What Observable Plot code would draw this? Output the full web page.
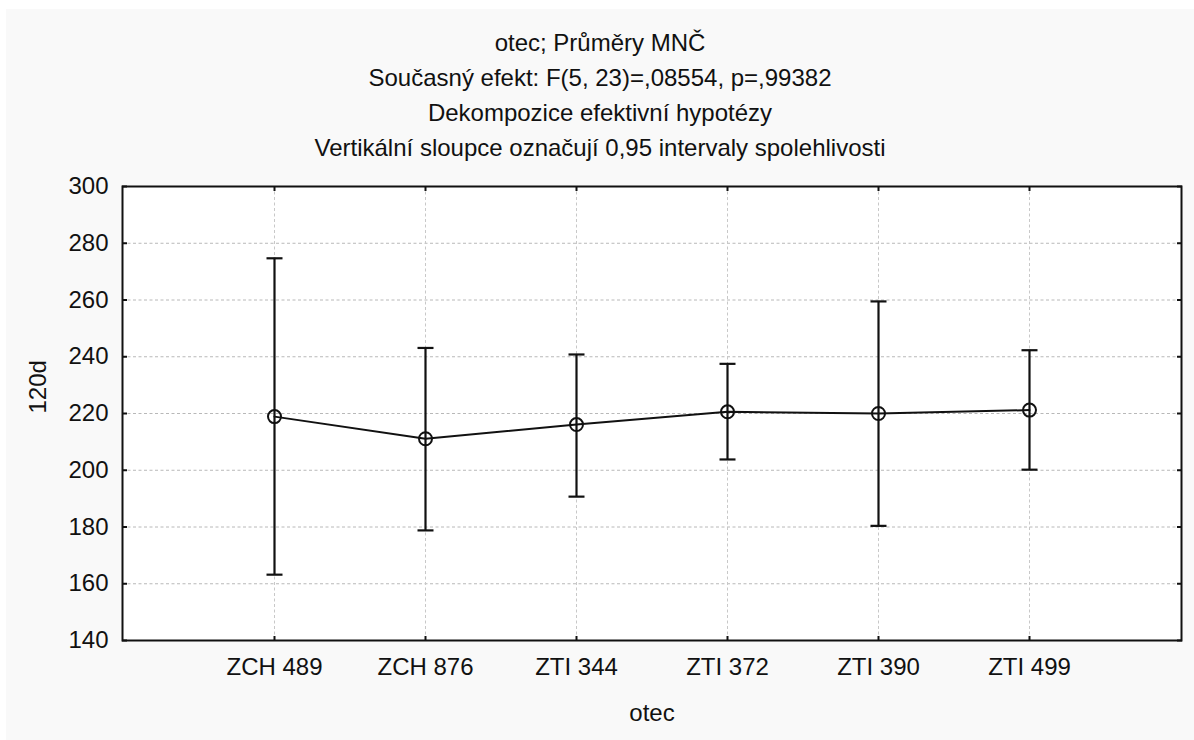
<!DOCTYPE html>
<html>
<head>
<meta charset="utf-8">
<script src="https://cdn.jsdelivr.net/npm/d3@7"></script>
<script src="https://cdn.jsdelivr.net/npm/@observablehq/plot@0.6"></script>
<style>
  html, body { margin: 0; padding: 0; background: #ffffff; }
  #chart {
    position: absolute; left: 6px; top: 9px; width: 1188px; height: 731px;
    background: #f9f9f9; overflow: hidden;
    font-family: "Liberation Sans", Arial, sans-serif; color: #111;
  }
  #title {
    padding-top: 16px; text-align: center; font-size: 24px; line-height: 35px;
  }
  #plot svg { display: block; }
</style>
</head>
<body>
<div id="chart">
  <div id="title"></div>
  <div id="plot"></div>
</div>
<script>
const titleLines = [
  "otec; Průměry MNČ",
  "Současný efekt: F(5, 23)=,08554, p=,99382",
  "Dekompozice efektivní hypotézy",
  "Vertikální sloupce označují 0,95 intervaly spolehlivosti"
];
const xLabel = "otec";
const yLabel = "120d";
const categories = ["ZCH 489", "ZCH 876", "ZTI 344", "ZTI 372", "ZTI 390", "ZTI 499"];
const means = [218.9, 211.1, 216.1, 220.6, 220.0, 221.2];
const lower = [163.2, 178.8, 190.7, 203.8, 180.4, 200.2];
const upper = [274.7, 243.1, 240.8, 237.5, 259.5, 242.3];
const yTicks = [140, 160, 180, 200, 220, 240, 260, 280, 300];

document.getElementById("title").innerHTML = titleLines.map(t => `<div>${t}</div>`).join("");

const rows = categories.map((c, i) => ({cat: c, mean: means[i], lo: lower[i], hi: upper[i]}));

const capSymbol = {
  draw(ctx, size) {
    const r = Math.sqrt(size / Math.PI);
    ctx.moveTo(-r, 0);
    ctx.lineTo(r, 0);
  }
};

const ink = "#111";
const chart = Plot.plot({
  width: 1188,
  height: 574,
  marginTop: 21,
  marginBottom: 99,
  marginLeft: 116,
  marginRight: 13,
  style: {fontSize: "24px", fontFamily: "'Liberation Sans', Arial, sans-serif", background: "transparent", color: ink},
  x: {type: "point", domain: categories, padding: 1, label: null},
  y: {domain: [140, 300], label: null},
  marks: [
    Plot.frame({fill: "white", stroke: null}),
    Plot.gridY(yTicks, {stroke: "#b8b8b8", strokeOpacity: 1, strokeDasharray: "3,2.5"}),
    Plot.gridX(categories, {stroke: "#c8c8c8", strokeOpacity: 1, strokeDasharray: "3,2.5"}),
    Plot.ruleX(rows, {x: "cat", y1: "lo", y2: "hi", stroke: ink, strokeWidth: 2.2}),
    Plot.dot(rows, {x: "cat", y: "lo", symbol: capSymbol, r: 8, stroke: ink, strokeWidth: 2.2}),
    Plot.dot(rows, {x: "cat", y: "hi", symbol: capSymbol, r: 8, stroke: ink, strokeWidth: 2.2}),
    Plot.line(rows, {x: "cat", y: "mean", stroke: ink, strokeWidth: 2}),
    Plot.dot(rows, {x: "cat", y: "mean", r: 6.5, stroke: ink, strokeWidth: 2, fill: "none"}),
    Plot.frame({stroke: ink, strokeWidth: 2}),
    Plot.axisY({anchor: "left", ticks: yTicks, tickSize: -5, tickFormat: () => "", label: null, stroke: ink, strokeWidth: 2}),
    Plot.axisY({anchor: "right", ticks: yTicks, tickSize: -5, tickFormat: () => "", label: null, stroke: ink, strokeWidth: 2}),
    Plot.axisX({anchor: "top", tickSize: -4, tickFormat: () => "", label: null, stroke: ink, strokeWidth: 2}),
    Plot.axisX({anchor: "bottom", tickSize: -4, tickFormat: () => "", label: null, stroke: ink, strokeWidth: 2}),
    Plot.axisY({anchor: "left", ticks: yTicks, tickSize: 0, tickPadding: 14, label: null, fill: ink}),
    Plot.axisX({anchor: "bottom", tickSize: 0, tickPadding: 17, label: null, fill: ink}),
    Plot.text([xLabel], {frameAnchor: "bottom", dy: 80, text: d => d, fill: ink}),
    Plot.text([yLabel], {frameAnchor: "left", dx: -84, rotate: -90, text: d => d, fill: ink})
  ]
});
document.getElementById("plot").appendChild(chart);
</script>
</body>
</html>
